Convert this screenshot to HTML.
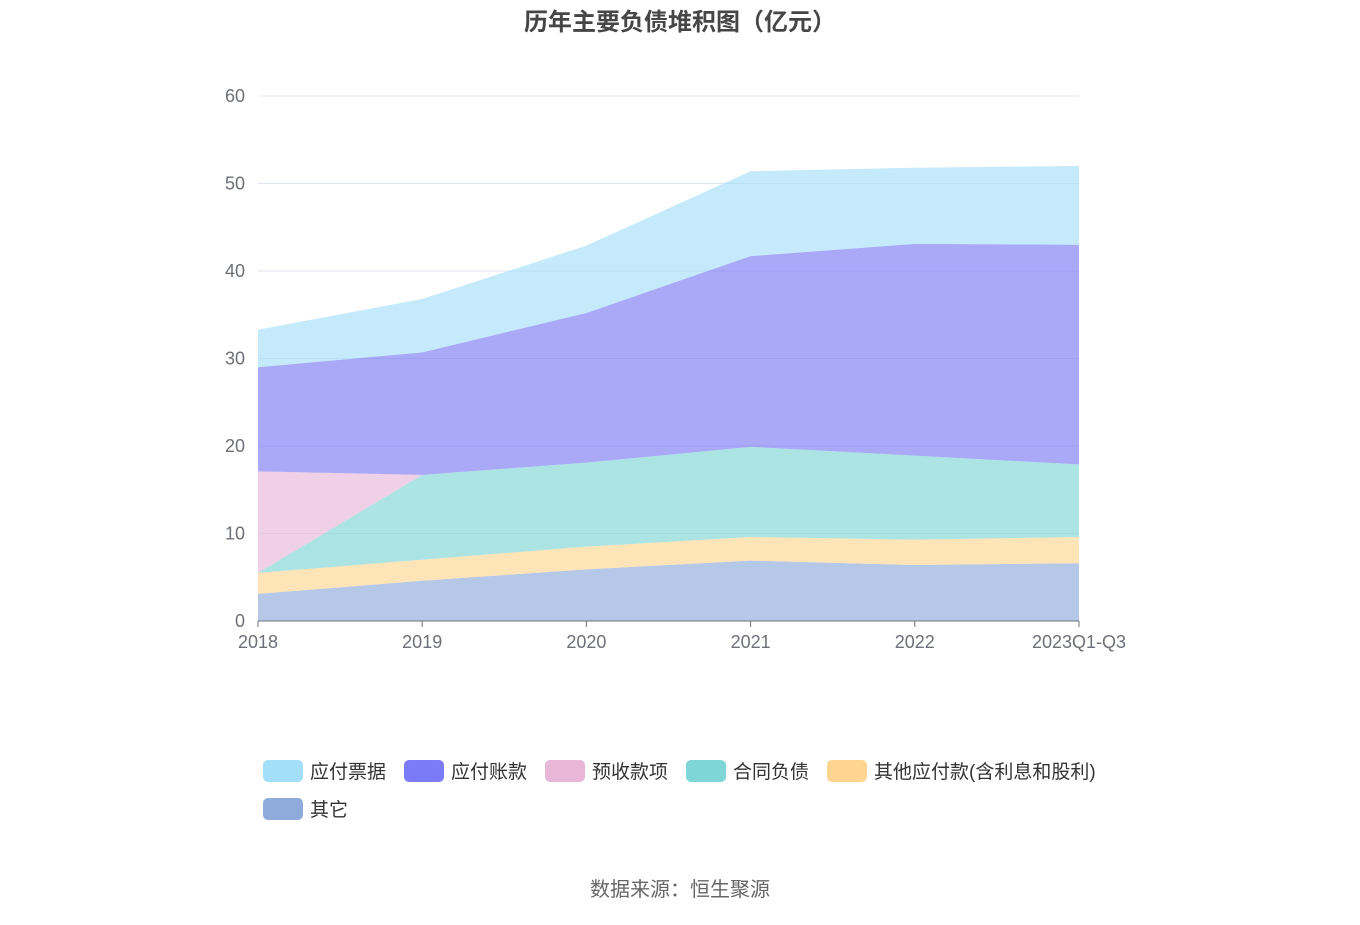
<!DOCTYPE html>
<html><head><meta charset="utf-8">
<style>
body{margin:0;background:#fff;width:1360px;height:920px;overflow:hidden;font-family:"Liberation Sans","Noto Sans CJK SC",sans-serif;}
</style></head>
<body>
<svg id="chart" width="1360" height="920" xmlns="http://www.w3.org/2000/svg" font-family="Liberation Sans, Noto Sans CJK SC, sans-serif">
<text x="680" y="30" text-anchor="middle" font-size="24" font-weight="bold" fill="#464646">历年主要负债堆积图（亿元）</text>
<g id="grid"></g><g id="areas"></g><g id="axes"></g><g id="legend"></g>
<text x="680" y="896" text-anchor="middle" font-size="20" fill="#666">数据来源：恒生聚源</text>
</svg>
<script>
const categories = ["2018","2019","2020","2021","2022","2023Q1-Q3"];
const seriesNames = ["其它","其他应付款(含利息和股利)","合同负债","预收款项","应付账款","应付票据"];
const other = [3.1,4.6,5.9,6.9,6.4,6.6];
const otherPayable = [2.4,2.4,2.6,2.7,2.9,3.0];
const contractLiab = [0,9.7,9.6,10.3,9.6,8.3];
const advanceRecv = [11.6,0,0,0,0,0];
const accountsPayable = [11.9,14.0,17.1,21.8,24.2,25.1];
const notesPayable = [4.3,6.1,7.7,9.7,8.7,9.0];
const yTicks = [0,10,20,30,40,50,60];
const seriesData = [other,otherPayable,contractLiab,advanceRecv,accountsPayable,notesPayable];
const colors = ["#8eabdc","#ffd591","#7fd6d6","#e8b7d8","#7b7bf5","#a4dff9"];
const ns="http://www.w3.org/2000/svg";
const X0=258,X1=1079,Y0=621,Y1=96,YMAX=60;
const xs=i=>X0+(X1-X0)*i/(categories.length-1);
const ys=v=>Y0-(Y0-Y1)*v/YMAX;
function mk(t,a,p){const e=document.createElementNS(ns,t);for(const k in a)e.setAttribute(k,a[k]);p.appendChild(e);return e;}
const grid=document.getElementById('grid'),axes=document.getElementById('axes'),areas=document.getElementById('areas'),legend=document.getElementById('legend');
yTicks.forEach(t=>{
  if(t>0){const l=mk('line',{x1:X0,x2:X1,y1:ys(t),y2:ys(t),stroke:'#e0e6f1'},grid);
  
  }
  const tx=mk('text',{x:245,y:ys(t)+6,'text-anchor':'end','font-size':18,fill:'#6e7079'},axes);
  
  
  tx.textContent=t;
});
let base=categories.map(()=>0);
seriesData.forEach((s,si)=>{
  const top=base.map((b,i)=>b+s[i]);
  let d='M'+top.map((v,i)=>xs(i)+','+ys(v)).join(' L');
  for(let i=categories.length-1;i>=0;i--)d+=' L'+xs(i)+','+ys(base[i]);
  d+='Z';
  const p=mk('path',{d:d,fill:colors[si],'fill-opacity':0.65},areas);
  
  
  base=top;
});
const ax=mk('line',{x1:X0,x2:X1,y1:Y0,y2:Y0,stroke:'#6e7079'},axes);


categories.forEach((c,i)=>{
  mk('line',{x1:xs(i),x2:xs(i),y1:Y0,y2:Y0+6,stroke:'#6e7079'},axes);
  const t=mk('text',{x:xs(i),y:Y0+27,'text-anchor':'middle','font-size':18,fill:'#6e7079'},axes);
  
  
  t.textContent=c;
});
const legendOrder=[5,4,3,2,1,0];
const lx=[263,404,545,686,827,263],ly=[771,771,771,771,771,809];
legendOrder.forEach((si,k)=>{
  const g=mk('g',{},legend);
  
  
  mk('rect',{x:lx[k],y:ly[k]-11,width:40,height:22,rx:5,fill:colors[si]},g);
  const t=mk('text',{x:lx[k]+47,y:ly[k]+7,'font-size':19,fill:'#333'},g);
  t.textContent=seriesNames[si];
});
</script>
</body></html>
